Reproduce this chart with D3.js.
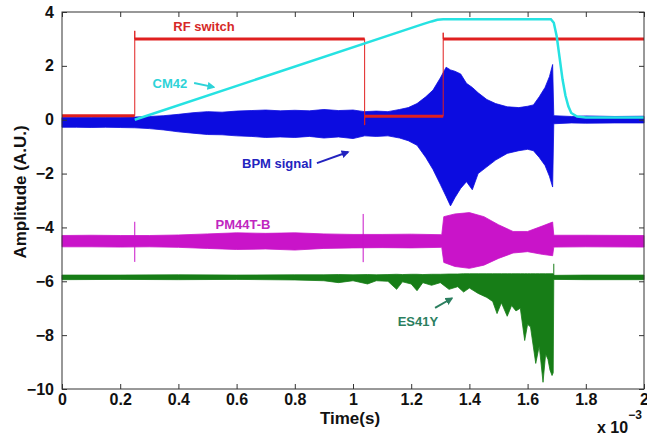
<!DOCTYPE html>
<html>
<head>
<meta charset="utf-8">
<script src="https://cdn.jsdelivr.net/npm/d3@7"></script>
<style>
body { margin: 0; background: #fff; }
svg { display: block; font-family: "Liberation Sans", Arial, Helvetica, sans-serif; font-weight: bold; }
</style>
</head>
<body>
<svg id="chart" width="647" height="438"></svg>
<script>
// time is in ms (axis reads x 10^-3 s)
var xTicks = [0, 0.2, 0.4, 0.6, 0.8, 1, 1.2, 1.4, 1.6, 1.8, 2];
var yTicks = [-10, -8, -6, -4, -2, 0, 2, 4];

// RF switch: level between edges, overshoot at each inner edge
var rfEdges = [0, 0.25, 1.04, 1.31, 2.0];
var rfLevels = [0.15, 3.0, 0.13, 3.0];
var rfOvershoot = [3.3, -0.2, 3.23];

// CM42 ramp
var cmTime = [0.25, 1.24, 1.27, 1.29, 1.31, 1.68, 1.69, 1.70, 1.71, 1.72, 1.73, 1.74, 1.75, 1.77, 1.8, 2.0];
var cmValue = [0, 3.55, 3.65, 3.71, 3.73, 3.73, 3.6, 3.1, 2.3, 1.5, 0.9, 0.5, 0.25, 0.12, 0.08, 0.08];

// BPM signal envelope
var bpmTime = [0, 0.05, 0.1, 0.15, 0.2, 0.25, 0.3, 0.35, 0.4, 0.45, 0.5, 0.55, 0.6, 0.65, 0.7, 0.75, 0.8, 0.85, 0.9, 0.95,
  1.0, 1.04, 1.08, 1.12, 1.16, 1.19, 1.22, 1.25, 1.275, 1.3, 1.32, 1.335, 1.35, 1.37, 1.39, 1.41, 1.43, 1.46, 1.49, 1.53,
  1.57, 1.6, 1.62, 1.64, 1.66, 1.675, 1.686, 1.69, 1.75, 1.8, 1.9, 2.0];
var bpmHigh = [0.08, 0.09, 0.08, 0.09, 0.09, 0.1, 0.12, 0.15, 0.2, 0.26, 0.3, 0.28, 0.32, 0.34, 0.36, 0.33, 0.35, 0.33, 0.38, 0.34,
  0.36, 0.3, 0.32, 0.3, 0.38, 0.45, 0.6, 0.85, 1.1, 1.55, 1.95, 1.85, 1.8, 1.7, 1.35, 1.2, 1.0, 0.75, 0.6, 0.48,
  0.45, 0.5, 0.55, 0.85, 1.2, 1.6, 2.05, 0.15, 0.12, 0.14, 0.12, 0.13];
var bpmLow = [-0.28, -0.28, -0.29, -0.28, -0.29, -0.3, -0.33, -0.38, -0.45, -0.5, -0.55, -0.56, -0.6, -0.62, -0.66, -0.64, -0.66, -0.62, -0.68, -0.64,
  -0.7, -0.6, -0.62, -0.6, -0.68, -0.78, -0.95, -1.4, -1.85, -2.4, -2.85, -3.2, -2.9, -2.55, -2.3, -2.6, -2.0, -1.75, -1.5, -1.25,
  -1.15, -1.1, -1.15, -1.4, -1.7, -2.1, -2.5, -0.15, -0.12, -0.13, -0.12, -0.12];

// PM44T-B envelope
var pmTime = [0, 0.1, 0.2, 0.3, 0.4, 0.5, 0.6, 0.7, 0.8, 0.9, 1.0, 1.1, 1.2, 1.305, 1.312, 1.35, 1.4, 1.45, 1.5, 1.55,
  1.6, 1.65, 1.686, 1.69, 1.8, 2.0];
var pmHigh = [-4.3, -4.29, -4.3, -4.3, -4.28, -4.24, -4.2, -4.22, -4.2, -4.24, -4.26, -4.26, -4.25, -4.27, -3.6, -3.5, -3.45, -3.6, -3.9, -4.15,
  -4.15, -3.95, -3.8, -4.29, -4.29, -4.3];
var pmLow = [-4.72, -4.72, -4.73, -4.72, -4.74, -4.78, -4.82, -4.8, -4.84, -4.78, -4.76, -4.75, -4.76, -4.74, -5.3, -5.45, -5.52, -5.4, -5.15, -4.95,
  -4.9, -5.0, -5.05, -4.73, -4.72, -4.73];
var pmSpikeTime = [0.25, 1.035];
var pmSpikeHigh = [-3.79, -3.5];
var pmSpikeLow = [-5.28, -5.29];

// ES41Y envelope
var esTime = [0, 0.2, 0.4, 0.6, 0.8, 0.9, 0.95, 1.0, 1.05, 1.08, 1.12, 1.15, 1.17, 1.2, 1.22, 1.24, 1.27, 1.3, 1.33, 1.36,
  1.38, 1.4, 1.43, 1.46, 1.48, 1.495, 1.51, 1.53, 1.545, 1.56, 1.575, 1.59, 1.6, 1.61, 1.628, 1.64, 1.653, 1.662, 1.67, 1.677,
  1.684, 1.688, 1.69, 1.8, 2.0];
var esHigh = [-5.77, -5.77, -5.76, -5.77, -5.76, -5.76, -5.75, -5.76, -5.75, -5.76, -5.75, -5.74, -5.75, -5.74, -5.74, -5.75, -5.74, -5.74, -5.73, -5.73,
  -5.72, -5.72, -5.72, -5.72, -5.72, -5.72, -5.72, -5.72, -5.72, -5.72, -5.72, -5.72, -5.72, -5.72, -5.72, -5.72, -5.72, -5.72, -5.72, -5.72,
  -5.72, -5.72, -5.78, -5.77, -5.77];
var esLow = [-5.94, -5.93, -5.94, -5.93, -5.95, -5.98, -6.05, -5.98, -6.1, -5.98, -6.0, -6.3, -6.02, -6.1, -6.35, -6.05, -6.15, -6.05, -6.3, -6.2,
  -6.4, -6.25, -6.45, -6.6, -6.75, -7.2, -6.8, -7.3, -6.9, -7.1, -7.0, -8.2, -7.6, -7.7, -9.05, -8.4, -9.75, -8.7, -8.9, -9.3,
  -9.5, -9.4, -5.93, -5.94, -5.94];
var esSpikeTime = [1.69];
var esSpikeHigh = [-5.35];
var esSpikeLow = [-5.9];

// annotations
var labelText = ["RF switch", "CM42", "BPM signal", "PM44T-B", "ES41Y"];
var labelTime = [0.488, 0.371, 0.739, 0.622, 1.223];
var labelValue = [3.45, 1.36, -1.61, -3.88, -7.48];
var labelColor = ["#d62828", "#2ed3d8", "#2323bf", "#c026c0", "#2b7f5f"];
var arrowFromTime = [0.454, 0.876, 1.282];
var arrowFromValue = [1.36, -1.61, -6.99];
var arrowToTime = [0.522, 0.983, 1.34];
var arrowToValue = [1.21, -1.2, -6.63];
var arrowColor = ["#2ed3d8", "#2323bf", "#2b7f5f"];

var padL = 62, padR = 644, padT = 12, padB = 389;
var svg = d3.select("#chart");
var x = d3.scaleLinear().domain([0, 2]).range([padL, padR]);
var y = d3.scaleLinear().domain([-10, 4]).range([padB, padT]);

function band(t, hi, lo) {
  return t.map(function (d, i) { return { t: d, hi: hi[i], lo: lo[i] }; });
}
var area = d3.area()
  .x(function (d) { return x(d.t); })
  .y0(function (d) { return y(d.lo); })
  .y1(function (d) { return y(d.hi); });

var plot = svg.append("g");

function drawBand(t, hi, lo, color) {
  plot.append("path")
    .datum(band(t, hi, lo))
    .attr("d", area)
    .attr("fill", color)
    .attr("stroke", color)
    .attr("stroke-width", 0.8);
}
function drawSpikes(t, hi, lo, color) {
  plot.selectAll(null)
    .data(band(t, hi, lo))
    .enter()
    .append("line")
    .attr("x1", function (d) { return x(d.t); })
    .attr("x2", function (d) { return x(d.t); })
    .attr("y1", function (d) { return y(d.hi); })
    .attr("y2", function (d) { return y(d.lo); })
    .attr("stroke", color)
    .attr("stroke-width", 1);
}

drawBand(esTime, esHigh, esLow, "#177d17");
drawSpikes(esSpikeTime, esSpikeHigh, esSpikeLow, "#177d17");
drawBand(pmTime, pmHigh, pmLow, "#c914c9");
drawSpikes(pmSpikeTime, pmSpikeHigh, pmSpikeLow, "#c914c9");
drawBand(bpmTime, bpmHigh, bpmLow, "#0c0ce0");

// RF switch: thin edges with overshoot, thicker level segments
var rfPts = [];
for (var i = 0; i < rfLevels.length; i++) {
  rfPts.push([rfEdges[i], rfLevels[i]]);
  rfPts.push([rfEdges[i + 1], rfLevels[i]]);
  if (i < rfOvershoot.length) rfPts.push([rfEdges[i + 1], rfOvershoot[i]]);
}
var line = d3.line()
  .x(function (d) { return x(d[0]); })
  .y(function (d) { return y(d[1]); });
plot.append("path")
  .datum(rfPts)
  .attr("d", line)
  .attr("fill", "none")
  .attr("stroke", "#e02020")
  .attr("stroke-width", 1);
plot.selectAll(null)
  .data(rfLevels)
  .enter()
  .append("line")
  .attr("x1", function (d, i) { return x(rfEdges[i]); })
  .attr("x2", function (d, i) { return x(rfEdges[i + 1]); })
  .attr("y1", function (d) { return y(d); })
  .attr("y2", function (d) { return y(d); })
  .attr("stroke", "#e02020")
  .attr("stroke-width", 3);

plot.append("path")
  .datum(cmTime.map(function (d, i) { return [d, cmValue[i]]; }))
  .attr("d", line)
  .attr("fill", "none")
  .attr("stroke", "#26e2e2")
  .attr("stroke-width", 2.5);

// axes: box with inward ticks on all sides
var axisColor = "#333";
var gx = svg.append("g").attr("transform", "translate(0," + padB + ")")
  .call(d3.axisBottom(x).tickValues(xTicks).tickSize(-5).tickPadding(5)
    .tickFormat(function (d) { return String(+d.toFixed(1)); }));
var gxt = svg.append("g").attr("transform", "translate(0," + padT + ")")
  .call(d3.axisTop(x).tickValues(xTicks).tickSize(-5).tickFormat(""));
var gy = svg.append("g").attr("transform", "translate(" + padL + ",0)")
  .call(d3.axisLeft(y).tickValues(yTicks).tickSize(-5).tickPadding(8));
var gyr = svg.append("g").attr("transform", "translate(" + padR + ",0)")
  .call(d3.axisRight(y).tickValues(yTicks).tickSize(-5).tickFormat(""));
[gx, gxt, gy, gyr].forEach(function (g) {
  g.attr("font-family", null).attr("font-size", null);
  g.select(".domain").remove();
  g.selectAll(".tick line").attr("stroke", axisColor);
  g.selectAll("text").attr("fill", "#111").style("font-size", "16px");
});
svg.append("rect")
  .attr("x", padL).attr("y", padT)
  .attr("width", padR - padL).attr("height", padB - padT)
  .attr("fill", "none").attr("stroke", axisColor).attr("stroke-width", 1);

svg.append("text")
  .attr("x", (padL + padR) / 2 - 3).attr("y", 424)
  .attr("text-anchor", "middle").attr("fill", "#111").style("font-size", "17px")
  .text("Time(s)");
svg.append("text")
  .attr("transform", "translate(26,192) rotate(-90)")
  .attr("text-anchor", "middle").attr("fill", "#111").style("font-size", "17px")
  .text("Amplitude (A.U.)");
var expo = svg.append("text").attr("x", 597).attr("y", 433).attr("fill", "#111").style("font-size", "16px");
expo.append("tspan").text("x 10");
expo.append("tspan").attr("dy", -14).style("font-size", "12px").text("−3");

// annotations
var defs = svg.append("defs");
arrowColor.forEach(function (c, i) {
  defs.append("marker").attr("id", "ah" + i)
    .attr("viewBox", "0 0 10 10").attr("refX", 8).attr("refY", 5)
    .attr("markerWidth", 4).attr("markerHeight", 4).attr("orient", "auto")
    .append("path").attr("d", "M0,0L10,5L0,10Z").attr("fill", c);
});
svg.selectAll(".arrow")
  .data(arrowColor)
  .enter()
  .append("line")
  .attr("class", "arrow")
  .attr("x1", function (d, i) { return x(arrowFromTime[i]); })
  .attr("y1", function (d, i) { return y(arrowFromValue[i]); })
  .attr("x2", function (d, i) { return x(arrowToTime[i]); })
  .attr("y2", function (d, i) { return y(arrowToValue[i]); })
  .attr("stroke", function (d) { return d; })
  .attr("stroke-width", 2)
  .attr("marker-end", function (d, i) { return "url(#ah" + i + ")"; });
svg.selectAll(".label")
  .data(labelText)
  .enter()
  .append("text")
  .attr("class", "label")
  .attr("x", function (d, i) { return x(labelTime[i]); })
  .attr("y", function (d, i) { return y(labelValue[i]); })
  .attr("dy", "0.35em")
  .attr("text-anchor", "middle")
  .attr("fill", function (d, i) { return labelColor[i]; })
  .style("font-size", "13px")
  .text(function (d) { return d; });
</script>
</body>
</html>
